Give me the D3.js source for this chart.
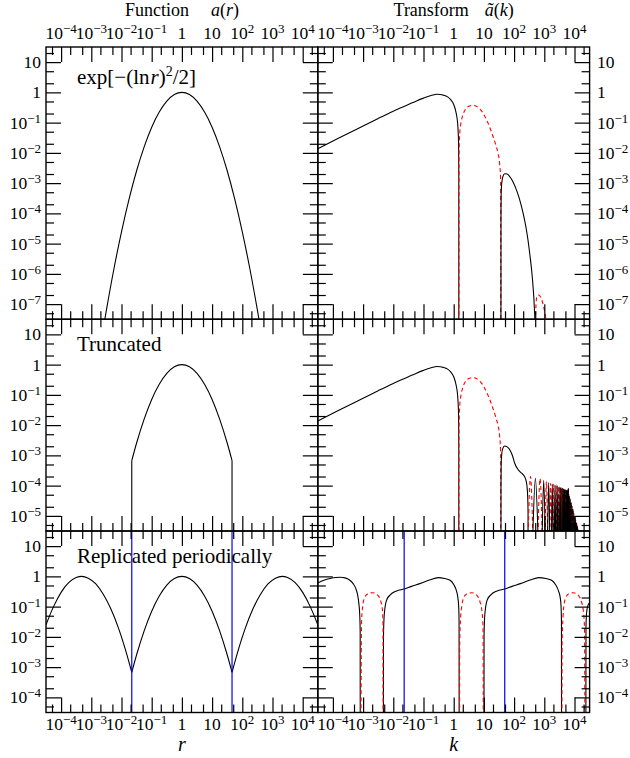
<!DOCTYPE html>
<html><head><meta charset="utf-8">
<script src="https://cdn.jsdelivr.net/npm/d3@7"></script>
<style>
body{margin:0;background:#fff}
svg{display:block}
text{font-family:"Liberation Serif","Times New Roman",serif;fill:#000}
</style></head><body>
<svg id="c" width="630" height="758"></svg>
<script>
// ---------- DATA (log10 k or r, log10 |value|) ----------
const xTickExps = [-4,-3,-2,-1,0,1,2,3,4];
const yTickExps1 = [-7,-6,-5,-4,-3,-2,-1,0,1];
const yTickExps2 = [-5,-4,-3,-2,-1,0,1];
const yTickExps3 = [-4,-3,-2,-1,0,1];

// Function a(r) = exp[-(ln r)^2/2]
const gaussR = [-2.62,-2.5,-2.25,-2.0,-1.75,-1.5,-1.25,-1.0,-0.75,-0.5,-0.25,0,0.25,0.5,0.75,1.0,1.25,1.5,1.75,2.0,2.25,2.5,2.62];
const gaussA = [-7.9,-7.2,-5.83,-4.61,-3.53,-2.59,-1.80,-1.15,-0.65,-0.29,-0.07,0,-0.07,-0.29,-0.65,-1.15,-1.80,-2.59,-3.53,-4.61,-5.83,-7.2,-7.9];

// Truncated
const truncR = [-1.66,-1.5,-1.25,-1.0,-0.75,-0.5,-0.25,0,0.25,0.5,0.75,1.0,1.25,1.5,1.66];
const truncA = [-3.17,-2.59,-1.80,-1.15,-0.65,-0.29,-0.07,0,-0.07,-0.29,-0.65,-1.15,-1.80,-2.59,-3.17];
const truncEdges = [-1.66, 1.66];

// Replicated periodically (arches between cusps)
const perArch0 = [[-4.5,-1.60],[-4.25,-1.00],[-4.0,-0.53],[-3.75,-0.21],[-3.5,-0.04],[-3.32,0],[-3.1,-0.06],[-2.85,-0.25],[-2.6,-0.60],[-2.35,-1.08],[-2.1,-1.71],[-1.9,-2.32],[-1.66,-3.17]];
const perArch1 = [[-1.66,-3.17],[-1.5,-2.59],[-1.25,-1.80],[-1.0,-1.15],[-0.75,-0.65],[-0.5,-0.29],[-0.25,-0.07],[0,0],[0.25,-0.07],[0.5,-0.29],[0.75,-0.65],[1.0,-1.15],[1.25,-1.80],[1.5,-2.59],[1.66,-3.17]];
const perArch2 = [[1.66,-3.17],[1.9,-2.32],[2.1,-1.71],[2.35,-1.08],[2.6,-0.60],[2.85,-0.25],[3.1,-0.06],[3.32,0],[3.5,-0.04],[3.75,-0.21],[4.0,-0.53],[4.25,-1.00],[4.5,-1.60]];
const blueR = [-1.66, 1.66];
const blueK = [-1.64, 1.69];

// Transform: low-k positive lobe and first negative lobe (rows 1 and 2)
const kLowPos = [[-4.5,-1.86],[-4.0,-1.61],[-3.5,-1.36],[-3.0,-1.11],[-2.5,-0.86],[-2.0,-0.62],[-1.5,-0.40],[-1.25,-0.29],[-1.0,-0.19],[-0.8,-0.12],[-0.65,-0.08],[-0.55,-0.06],[-0.45,-0.07],[-0.35,-0.09],[-0.2,-0.15],[-0.1,-0.24],[0.0,-0.40],[0.05,-0.55],[0.1,-0.78],[0.13,-1.02],[0.15,-1.35],[0.16,-1.65],[0.166,-2.1],[0.169,-2.8],[0.171,-12]];
const kLowNeg = [[0.171,-12],[0.176,-2.2],[0.186,-1.7],[0.2,-1.36],[0.23,-1.08],[0.26,-0.91],[0.3,-0.76],[0.37,-0.59],[0.45,-0.49],[0.55,-0.44],[0.65,-0.43],[0.75,-0.46],[0.86,-0.54],[0.97,-0.68],[1.09,-0.91],[1.2,-1.17],[1.3,-1.45],[1.4,-1.76],[1.47,-2.02],[1.52,-2.35],[1.55,-2.8],[1.558,-3.5],[1.561,-12]];

// Row 1 transform tail
const k1Pos2 = [[1.562,-12],[1.566,-4.0],[1.572,-3.35],[1.59,-3.0],[1.63,-2.78],[1.69,-2.69],[1.77,-2.70],[1.86,-2.79],[1.97,-2.97],[2.08,-3.23],[2.2,-3.6],[2.3,-4.0],[2.4,-4.5],[2.46,-4.88],[2.52,-5.35],[2.58,-5.87],[2.63,-6.45],[2.67,-7.1],[2.695,-7.8],[2.70,-12]];
const k1Neg2 = [[2.701,-12],[2.71,-7.5],[2.73,-6.95],[2.76,-6.72],[2.82,-6.70],[2.9,-6.82],[2.97,-7.05],[3.03,-7.35],[3.08,-7.65]];

// Row 2 (truncated) transform tail
const k2Pos2 = [[1.562,-12],[1.566,-4.0],[1.572,-3.3],[1.59,-2.95],[1.63,-2.76],[1.69,-2.69],[1.77,-2.72],[1.86,-2.82],[1.95,-3.02],[2.02,-3.26],[2.14,-3.48],[2.25,-3.59],[2.34,-3.69],[2.40,-3.85],[2.43,-4.05],[2.45,-4.37],[2.462,-4.9],[2.466,-12]];
const k2Zeros = [2.466,2.62,2.79,2.93,3.03,3.11,3.18,3.24,3.29,3.335,3.375,3.41,3.445,3.475,3.505,3.53,3.555,3.58,3.60,3.62,3.64,3.66,3.68,3.70,3.715,3.73,3.745,3.76,3.775,3.79,3.805,3.82,3.835,3.85,3.865,3.88,3.895,3.91,3.925,3.94,3.955,3.97,3.985,4.0,4.015,4.03,4.045,4.06,4.075,4.09,4.105,4.12];
const k2Peaks = [-3.70,-3.76,-3.77,-3.82,-3.86,-3.90,-3.93,-3.95,-3.96,-3.98,-3.98,-4.00,-4.02,-4.03,-4.05,-4.07,-4.08,-4.10,-4.10,-4.12,-4.12,-4.14,-4.15,-4.15,-4.16,-4.16,-4.17,-4.17,-4.12,-4.10,-4.25,-4.36,-4.41,-4.47,-4.52,-4.58,-4.63,-4.69,-4.74,-4.80,-4.85,-4.91,-4.96,-5.02,-5.07,-5.13,-5.18,-5.24,-5.29,-5.35,-5.40];

// Row 3 (periodic) transform
const k3Pos = [
 [[-4.5,-0.22],[-4.3,-0.13],[-4.1,-0.07],[-3.9,-0.035],[-3.75,-0.03],[-3.6,-0.05],[-3.45,-0.12],[-3.33,-0.24],[-3.25,-0.38],[-3.18,-0.62],[-3.14,-0.9],[-3.11,-1.3],[-3.097,-1.8],[-3.09,-12]],
 [[-2.335,-12],[-2.325,-2.0],[-2.31,-1.44],[-2.27,-1.0],[-2.22,-0.78],[-2.11,-0.62],[-1.89,-0.48],[-1.64,-0.42],[-1.4,-0.33],[-1.12,-0.24],[-0.8,-0.12],[-0.51,-0.04],[-0.3,-0.07],[-0.12,-0.13],[0.0,-0.27],[0.10,-0.51],[0.14,-0.72],[0.165,-1.0],[0.178,-1.5],[0.186,-12]],
 [[1.00,-12],[1.005,-2.0],[1.02,-1.44],[1.06,-1.0],[1.11,-0.78],[1.22,-0.62],[1.44,-0.48],[1.69,-0.42],[1.93,-0.33],[2.21,-0.24],[2.53,-0.12],[2.82,-0.04],[3.05,-0.07],[3.24,-0.13],[3.37,-0.27],[3.48,-0.51],[3.53,-0.72],[3.555,-1.0],[3.568,-1.5],[3.576,-12]],
 [[4.37,-12],[4.38,-1.7],[4.40,-1.2],[4.44,-0.98],[4.5,-0.87]]
];
const k3Neg = [
 [[-3.09,-12],[-3.05,-1.5],[-3.015,-1.0],[-2.96,-0.73],[-2.85,-0.58],[-2.68,-0.54],[-2.52,-0.62],[-2.41,-0.84],[-2.36,-1.11],[-2.34,-1.66],[-2.336,-12]],
 [[0.19,-12],[0.20,-2.2],[0.23,-1.35],[0.265,-1.0],[0.32,-0.73],[0.43,-0.58],[0.60,-0.54],[0.76,-0.62],[0.87,-0.84],[0.93,-1.11],[0.97,-1.66],[0.99,-12]],
 [[3.577,-12],[3.59,-2.2],[3.62,-1.35],[3.645,-1.0],[3.70,-0.73],[3.80,-0.58],[3.96,-0.54],[4.12,-0.62],[4.23,-0.84],[4.29,-1.11],[4.33,-1.66],[4.36,-12]]
];

// ---------- LAYOUT ----------
const svg = d3.select("#c");
const DECY = 30.25, DECX = 30.2;
const colX = [46, 46 + 9*DECX];
const rows = [{lo:-7.5,hi:1.5,exps:yTickExps1},{lo:-5.5,hi:1.5,exps:yTickExps2},{lo:-4.5,hi:1.5,exps:yTickExps3}];
let yt = 47;
rows.forEach(r => { r.top = yt; r.bot = yt + (r.hi - r.lo)*DECY; yt = r.bot; });

const BLACK = "#000", RED = "#ff0000", BLUE = "#0000ff";
const P = v => Math.pow(10, v);
const TICKFS = 17.5, SUPFS = 13;

function powLabel(t, n) {
  if (n === 0) { t.text("1"); return; }
  if (n === 1) { t.text("10"); return; }
  t.text("10");
  t.append("tspan").attr("font-size", SUPFS).attr("dy", -6).text((n < 0 ? "\u2212" : "") + Math.abs(n));
}

const defs = svg.append("defs");
const panels = {};
for (let c = 0; c < 2; c++) {
  for (let r = 0; r < 3; r++) {
    const row = rows[r];
    const x0 = colX[c], x1 = colX[c] + 9*DECX;
    const xs = d3.scaleLog().domain([P(-4.5), P(4.5)]).range([x0, x1]);
    const ys = d3.scaleLog().domain([P(row.lo), P(row.hi)]).range([row.bot, row.top]);
    const id = `clip${c}${r}`;
    defs.append("clipPath").attr("id", id).append("rect")
      .attr("x", x0).attr("y", row.top).attr("width", x1 - x0).attr("height", row.bot - row.top);
    const g = svg.append("g");
    const plot = g.append("g").attr("clip-path", `url(#${id})`);
    panels[`${c}${r}`] = {g, plot, xs, ys, x0, x1, row};
  }
}

function lineGen(p) {
  return d3.line().x(d => p.xs(P(d[0]))).y(d => p.ys(P(d[1]))).curve(d3.curveMonotoneX);
}
function drawSeries(p, pts, color, dashed) {
  p.plot.append("path").attr("d", lineGen(p)(pts)).attr("fill", "none")
    .attr("stroke", color).attr("stroke-width", 1.1)
    .attr("stroke-dasharray", dashed ? "4,3" : null);
}
function vline(p, u, vTop, color, w) {
  p.plot.append("line").attr("x1", p.xs(P(u))).attr("x2", p.xs(P(u)))
    .attr("y1", p.ys(P(vTop))).attr("y2", p.row.bot + 2)
    .attr("stroke", color).attr("stroke-width", w);
}

// Left column
drawSeries(panels["00"], gaussR.map((u,i)=>[u, gaussA[i]]), BLACK);
drawSeries(panels["01"], truncR.map((u,i)=>[u, truncA[i]]), BLACK);
truncEdges.forEach(u => vline(panels["01"], u, -3.17, BLACK, 1.1));
[perArch0, perArch1, perArch2].forEach(a => drawSeries(panels["02"], a, BLACK));

// Right column row 1
drawSeries(panels["10"], kLowPos, BLACK);
drawSeries(panels["10"], kLowNeg, RED, true);
drawSeries(panels["10"], k1Pos2, BLACK);
drawSeries(panels["10"], k1Neg2, RED, true);

// Right column row 2
drawSeries(panels["11"], kLowPos, BLACK);
drawSeries(panels["11"], kLowNeg, RED, true);
drawSeries(panels["11"], k2Pos2, BLACK);
const floor2 = rows[1].lo - 0.1;
const lobes = k2Peaks.map((pk, i) => ({i, pts: [[k2Zeros[i], floor2], [(k2Zeros[i]+k2Zeros[i+1])/2, pk], [k2Zeros[i+1], floor2]]}));
lobes.filter(l => l.i % 2 === 0).forEach(l => drawSeries(panels["11"], l.pts, RED, true));
lobes.filter(l => l.i % 2 === 1).forEach(l => drawSeries(panels["11"], l.pts, BLACK, false));

// Right column row 3
k3Pos.forEach(s => drawSeries(panels["12"], s, BLACK));
k3Neg.forEach(s => drawSeries(panels["12"], s, RED, true));

// Blue lines in bottom row
blueR.forEach(u => vline(panels["02"], u, 3, BLUE, 1.2));
blueK.forEach(u => vline(panels["12"], u, 3, BLUE, 1.2));

// Frames, ticks, labels
Object.entries(panels).forEach(([key, p]) => {
  const c = +key[0], r = +key[1];
  const row = p.row;
  const g = p.g;
  const xMaj = xTickExps.map(P);
  const xMin = [];
  for (let e = -5; e <= 4; e++) [2,5].forEach(m => { const v = m*P(e); if (v > P(-4.5) && v < P(4.5)) xMin.push(v); });
  const yMaj = row.exps.map(P);
  const yMin = [];
  for (let e = Math.floor(row.lo); e <= Math.ceil(row.hi); e++) [2,5].forEach(m => { const v = m*P(e); if (v > P(row.lo) && v < P(row.hi)) yMin.push(v); });
  const mk = (axis, scale, vals, size, tr) => g.append("g").attr("transform", tr)
    .call(axis(scale).tickValues(vals).tickSize(-size).tickFormat(""))
    .call(a => { a.select(".domain").remove(); a.selectAll("line").attr("stroke", BLACK).attr("stroke-width", 1.2); });
  mk(d3.axisBottom, p.xs, xMaj, 15, `translate(0,${row.bot})`);
  mk(d3.axisBottom, p.xs, xMin, 8, `translate(0,${row.bot})`);
  mk(d3.axisTop, p.xs, xMaj, 15, `translate(0,${row.top})`);
  mk(d3.axisTop, p.xs, xMin, 8, `translate(0,${row.top})`);
  mk(d3.axisLeft, p.ys, yMaj, 15, `translate(${p.x0},0)`);
  mk(d3.axisLeft, p.ys, yMin, 8, `translate(${p.x0},0)`);
  mk(d3.axisRight, p.ys, yMaj, 15, `translate(${p.x1},0)`);
  mk(d3.axisRight, p.ys, yMin, 8, `translate(${p.x1},0)`);
  g.append("rect").attr("x", p.x0).attr("y", row.top).attr("width", p.x1 - p.x0).attr("height", row.bot - row.top)
    .attr("fill", "none").attr("stroke", BLACK).attr("stroke-width", 1.4);

  // y tick labels
  row.exps.forEach(e => {
    const t = g.append("text").attr("font-size", TICKFS)
      .attr("x", c === 0 ? 41 : 597).attr("y", p.ys(P(e)) + 6)
      .attr("text-anchor", c === 0 ? "end" : "start");
    powLabel(t, e);
  });
  // x tick labels
  if (r === 0 || r === 2) {
    xTickExps.forEach(e => {
      const t = g.append("text").attr("font-size", TICKFS).attr("text-anchor", "middle")
        .attr("x", p.xs(P(e))).attr("y", r === 0 ? 39 : 730);
      powLabel(t, e);
    });
  }
});

// Titles
const t1 = svg.append("text").attr("x", (colX[0] + colX[1]) / 2).attr("y", 16).attr("text-anchor", "middle").attr("font-size", 18);
t1.append("tspan").text("Function");
t1.append("tspan").attr("dx", 22).attr("font-style", "italic").text("a");
t1.append("tspan").text("(");
t1.append("tspan").attr("font-style", "italic").text("r");
t1.append("tspan").text(")");
const t2 = svg.append("text").attr("x", colX[1] + 4.5*DECX).attr("y", 16).attr("text-anchor", "middle").attr("font-size", 18);
t2.append("tspan").text("Transform");
t2.append("tspan").attr("dx", 16).attr("font-style", "italic").text("\u00e3");
t2.append("tspan").text("(");
t2.append("tspan").attr("font-style", "italic").text("k");
t2.append("tspan").text(")");

// Axis labels
svg.append("text").attr("x", (colX[0] + colX[1]) / 2).attr("y", 751).attr("text-anchor", "middle")
  .attr("font-size", 20).attr("font-style", "italic").text("r");
svg.append("text").attr("x", colX[1] + 4.5*DECX).attr("y", 751).attr("text-anchor", "middle")
  .attr("font-size", 20).attr("font-style", "italic").text("k");

// Panel labels
const l1 = svg.append("text").attr("x", 77).attr("y", 84).attr("font-size", 21);
l1.append("tspan").text("exp[\u2212(ln");
l1.append("tspan").attr("font-style", "italic").attr("dx", 1).text("r");
l1.append("tspan").text(")");
l1.append("tspan").attr("font-size", 14).attr("dy", -8).text("2");
l1.append("tspan").attr("dy", 8).text("/2]");
svg.append("text").attr("x", 77).attr("y", rows[1].top + 32).attr("font-size", 21).text("Truncated");
svg.append("text").attr("x", 77).attr("y", rows[2].top + 32).attr("font-size", 21).text("Replicated periodically");
</script>
</body></html>
